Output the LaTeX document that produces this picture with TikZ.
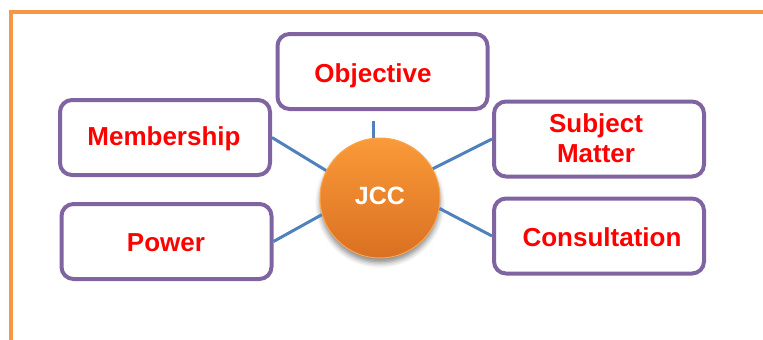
\documentclass[tikz,border=0pt]{standalone}
\usepackage{fontspec}
\setmainfont{Liberation Sans}
\usetikzlibrary{shadows.blur}

\definecolor{frameorange}{HTML}{F79646}
\definecolor{boxpurple}{HTML}{8064A2}
\definecolor{linkblue}{HTML}{4F81BD}
\definecolor{hubtop}{HTML}{FA9A38}
\definecolor{hubbottom}{HTML}{DA7022}
\definecolor{hubedge}{HTML}{F8A650}
\definecolor{labelred}{HTML}{FF0000}

\tikzset{
  topicbox/.style={draw=boxpurple, line width=4pt, rounded corners=12pt,
    fill=white, minimum width=210pt, minimum height=75pt, inner sep=0pt},
  topictext/.style={text=labelred, font=\fontsize{26}{30}\selectfont\bfseries,
    anchor=base, inner sep=0pt},
  hub/.style={circle, minimum size=120pt, inner sep=0pt,
    top color=hubtop, bottom color=hubbottom, draw=hubedge, line width=1pt,
    blur shadow={shadow xshift=0pt, shadow yshift=-5pt,
      shadow blur radius=5pt, shadow opacity=45}},
  hubtext/.style={text=white, font=\fontsize{25}{30}\selectfont\bfseries,
    anchor=base, inner sep=0pt},
  link/.style={draw=linkblue, line width=3pt},
  border/.style={draw=frameorange, line width=4pt}
}

\begin{document}
\begin{tikzpicture}[x=1pt, y=-1pt]
  \useasboundingbox (0,0) rectangle (763,340);

  % outer frame: left and top edges only
  \draw[border] (11,345) -- (11,12) -- (770,12);

  % topic boxes
  \node[topicbox] (obj)  at (382.5, 71.5) {};
  \node[topicbox] (mem)  at (165, 137.5) {};
  \node[topicbox] (pow)  at (166.5, 241.5) {};
  \node[topicbox] (subj) at (599, 139) {};
  \node[topicbox] (cons) at (599, 236) {};

  % central hub
  \node[hub] (jcc) at (380, 198) {};

  % spokes
  \coordinate (objtail) at (373, 121);
  \draw[link] (objtail) -- (objtail |- jcc.north);
  \draw[link] (mem.east) -- (jcc.153);
  \draw[link] (pow.east) -- (jcc.196);
  \draw[link] (subj.west) -- (jcc.29);
  \draw[link] (cons.west) -- (jcc.-10);

  % labels
  \node[topictext] (objtxt)   at (373, 82)  {Objective};
  \node[topictext] (memtxt)   at (164, 145) {Membership};
  \node[topictext] (powtxt)   at (166, 251) {Power};
  \node[topictext] (subjtxta) at (596, 132) {Subject};
  \node[topictext] (subjtxtb) at (596, 162) {Matter};
  \node[topictext] (constxt)  at (602, 246) {Consultation};
  \node[hubtext]   (jcctxt)   at (380, 204) {JCC};
\end{tikzpicture}
\end{document}
